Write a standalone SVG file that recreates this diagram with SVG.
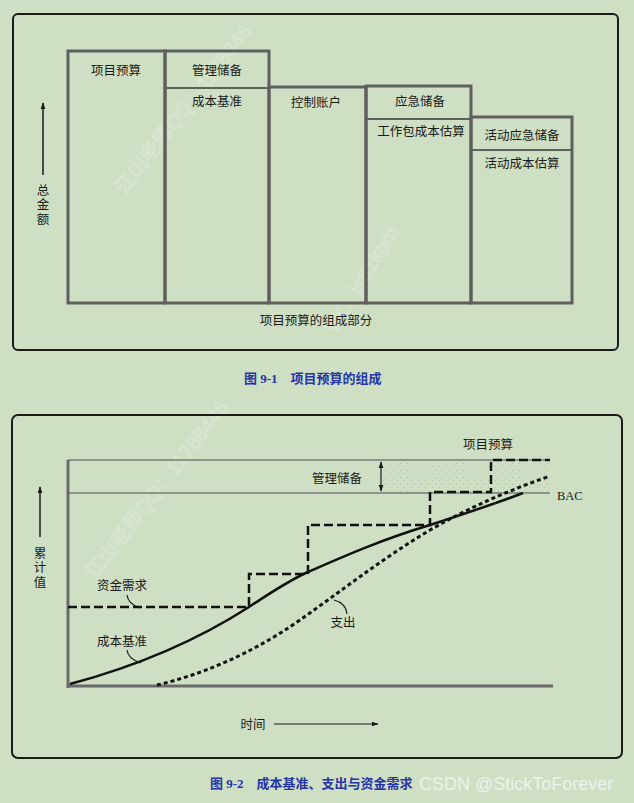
<svg xmlns="http://www.w3.org/2000/svg" width="634" height="803" viewBox="0 0 634 803">
<style>
.lbl{font-family:"Liberation Serif","Noto Sans CJK SC",serif;font-size:12.5px;fill:#1a1a1a;text-anchor:middle}
.cap{font-family:"Liberation Serif","Noto Sans CJK SC",serif;font-size:13px;font-weight:bold;fill:#2535a5}
.box{fill:none;stroke:#5f5f5f;stroke-width:3}
.div{stroke:#5f5f5f;stroke-width:2}
.frame{fill:none;stroke:#1a1a1a;stroke-width:2}
.thin{stroke:#7a7a7a;stroke-width:1.5}
.wm{font-family:"Liberation Sans","Noto Sans CJK SC",sans-serif;font-size:20px;fill:none;stroke:#ffffff;stroke-width:0.6;opacity:0.35}
</style>
<defs>
<marker id="ah" viewBox="0 0 10 10" refX="9" refY="5" markerWidth="7" markerHeight="7" orient="auto-start-reverse" markerUnits="userSpaceOnUse"><path d="M0,1.5 L10,5 L0,8.5 Z" fill="#1a1a1a"/></marker>
<pattern id="stip" width="7" height="7" patternUnits="userSpaceOnUse"><rect x="1" y="1" width="1" height="1" fill="#9a9a9a"/><rect x="5" y="4" width="1" height="1" fill="#a5a5a5"/></pattern>
</defs>
<rect width="634" height="803" fill="#cfdfc4"/>

<!-- watermarks -->
<text class="wm" transform="translate(125,195) rotate(-52)">江山老师QQ：1178846</text>
<text class="wm" transform="translate(335,335) rotate(-58)">VX：js51kpm</text>
<text class="wm" transform="translate(95,580) rotate(-52)">江山老师QQ：11788446</text>

<!-- Figure 9-1 -->
<g id="fig1">
<rect class="frame" x="13" y="14" width="605" height="336" rx="5"/>
<g id="n-project-budget"><rect class="box" x="68" y="51" width="97" height="252"/><text class="lbl" x="116" y="75">项目预算</text></g>
<g id="n-mgmt-reserve"><rect class="box" x="165" y="51" width="104" height="252"/><line class="div" x1="165" y1="88" x2="269" y2="88"/><text class="lbl" x="217" y="75">管理储备</text><text class="lbl" x="217" y="106">成本基准</text></g>
<g id="n-control-account"><rect class="box" x="269" y="87" width="97" height="216"/><text class="lbl" x="316" y="107">控制账户</text></g>
<g id="n-contingency"><rect class="box" x="366" y="86" width="105" height="217"/><line class="div" x1="366" y1="119" x2="471" y2="119"/><text class="lbl" x="420" y="106">应急储备</text><text class="lbl" x="421" y="136">工作包成本估算</text></g>
<g id="n-activity"><rect class="box" x="471" y="117" width="101" height="186"/><line class="div" x1="471" y1="150" x2="572" y2="150"/><text class="lbl" x="522" y="140">活动应急储备</text><text class="lbl" x="522" y="168">活动成本估算</text></g>
<g id="axis1"><line x1="43" y1="175" x2="43" y2="103" stroke="#1a1a1a" stroke-width="1.5" marker-end="url(#ah)"/>
<text class="lbl" x="43" y="195">总</text><text class="lbl" x="43" y="209">金</text><text class="lbl" x="43" y="224">额</text></g>
<text class="lbl" x="316" y="325">项目预算的组成部分</text>
</g>
<text class="cap" x="244" y="383">图 9-1　项目预算的组成</text>

<!-- Figure 9-2 -->
<g id="fig2">
<rect class="frame" x="12" y="415" width="610" height="343" rx="6"/>
<rect x="383" y="461" width="167" height="31" fill="url(#stip)" opacity="0.6"/>
<line class="thin" x1="68" y1="460" x2="550" y2="460"/>
<line class="thin" x1="68" y1="493" x2="550" y2="493"/>
<line x1="68" y1="460" x2="68" y2="688" stroke="#6a6a6a" stroke-width="3"/>
<line x1="67" y1="686" x2="553" y2="686" stroke="#6a6a6a" stroke-width="3"/>
<g id="connectors">
<line x1="381" y1="462" x2="381" y2="491" stroke="#1a1a1a" stroke-width="1.2" marker-start="url(#ah)" marker-end="url(#ah)"/>
<path id="funding" d="M68,607 H249 V574 H308 V525 H430 V492 H491 V460 H550" fill="none" stroke="#111" stroke-width="2.5" stroke-dasharray="9 4"/>
<path id="baseline" d="M70,684 C130,668 190,645 249,607 C270,593 290,580 308,572 C340,558 380,540 430,525 C470,512 500,502 523,493" fill="none" stroke="#111" stroke-width="2.5"/>
<path id="spend" d="M157,685 C200,675 250,655 300,620 C340,592 380,560 430,530 C470,507 510,490 550,476" fill="none" stroke="#111" stroke-width="3" stroke-dasharray="4 3"/>
<path d="M127,595 Q128,604 140,608" fill="none" stroke="#1a1a1a" stroke-width="1.2"/>
<path d="M127,650 Q128,659 141,663" fill="none" stroke="#1a1a1a" stroke-width="1.2"/>
<path d="M334,600 Q346,603 347,614" fill="none" stroke="#1a1a1a" stroke-width="1.2"/>
</g>
<text class="lbl" x="337" y="483">管理储备</text>
<text class="lbl" x="488" y="449">项目预算</text>
<text x="557" y="500" style="font-family:'Liberation Serif',serif;font-size:12.5px;fill:#1a1a1a">BAC</text>
<text class="lbl" x="122" y="590">资金需求</text>
<text class="lbl" x="122" y="646">成本基准</text>
<text class="lbl" x="343" y="627">支出</text>
<g id="axis2"><line x1="40" y1="537" x2="40" y2="487" stroke="#1a1a1a" stroke-width="1.5" marker-end="url(#ah)"/>
<text class="lbl" x="40" y="558">累</text><text class="lbl" x="40" y="572">计</text><text class="lbl" x="40" y="587">值</text></g>
<g id="timeaxis"><text class="lbl" x="253" y="729">时间</text><line x1="274" y1="724" x2="378" y2="724" stroke="#1a1a1a" stroke-width="1.2" marker-end="url(#ah)"/></g>
</g>
<text class="cap" x="210" y="788">图 9-2　成本基准、支出与资金需求</text>
<text x="419" y="790" style="font-family:'Liberation Sans',sans-serif;font-size:18px;fill:#f4f6f2;opacity:0.85">CSDN @StickToForever</text>
</svg>
